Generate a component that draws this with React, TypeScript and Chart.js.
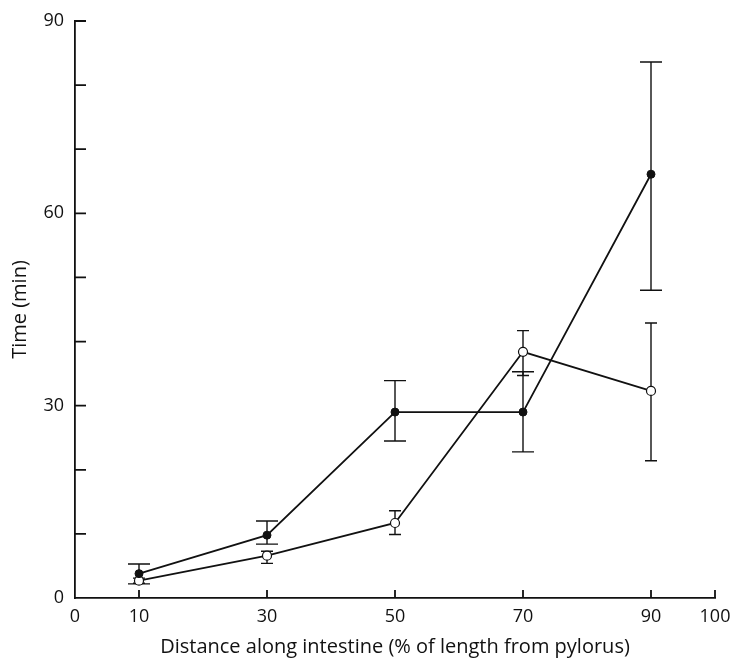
import React, { useEffect, useRef } from 'react';
import { Chart, registerables } from 'chart.js';

Chart.register(...registerables);

const distances = [10, 30, 50, 70, 90];
const filledTimes = [3.8, 9.8, 29.0, 29.0, 66.1];
const filledLow = [2.2, 8.4, 24.5, 22.8, 48.0];
const filledHigh = [5.3, 12.0, 33.9, 35.3, 83.6];
const openTimes = [2.7, 6.6, 11.7, 38.4, 32.3];
const openLow = [2.3, 5.4, 9.9, 34.7, 21.4];
const openHigh = [3.1, 7.3, 13.6, 41.7, 42.9];

const xTickValues = [0, 10, 30, 50, 70, 90, 100];
const xTickMarks = [10, 30, 50, 70, 90, 100];
const yTickValues = [0, 10, 20, 30, 40, 50, 60, 70, 80, 90];
const yLabelledTicks = [0, 30, 60, 90];

const xTitle = 'Distance along intestine (% of length from pylorus)';
const yTitle = 'Time (min)';

const INK = '#111';
const FONT = 'Open Sans';

export default function App() {
  const ref = useRef<HTMLCanvasElement>(null);

  useEffect(() => {
    if (!ref.current) return;

    const errorBars = {
      id: 'errorBars',
      beforeDatasetsDraw(chart: any) {
        const ctx = chart.ctx;
        const xs = chart.scales.x;
        const ys = chart.scales.y;
        const sets = [
          { low: filledLow, high: filledHigh, cap: 11 },
          { low: openLow, high: openHigh, cap: 6 },
        ];
        ctx.save();
        ctx.strokeStyle = INK;
        ctx.lineWidth = 1.4;
        sets.forEach((s) => {
          distances.forEach((d, i) => {
            const px = xs.getPixelForValue(d);
            const pl = ys.getPixelForValue(s.low[i]);
            const ph = ys.getPixelForValue(s.high[i]);
            ctx.beginPath();
            ctx.moveTo(px, pl);
            ctx.lineTo(px, ph);
            ctx.moveTo(px - s.cap, pl);
            ctx.lineTo(px + s.cap, pl);
            ctx.moveTo(px - s.cap, ph);
            ctx.lineTo(px + s.cap, ph);
            ctx.stroke();
          });
        });
        ctx.restore();
      },
    };

    const innerTicks = {
      id: 'innerTicks',
      afterDraw(chart: any) {
        const ctx = chart.ctx;
        const xs = chart.scales.x;
        const ys = chart.scales.y;
        const area = chart.chartArea;
        ctx.save();
        ctx.strokeStyle = INK;
        ctx.lineWidth = 1.8;
        ctx.beginPath();
        xTickMarks.forEach((v) => {
          const px = xs.getPixelForValue(v);
          ctx.moveTo(px, area.bottom);
          ctx.lineTo(px, area.bottom - 8);
        });
        yTickValues.forEach((v) => {
          if (v === 0) return;
          const py = ys.getPixelForValue(v);
          ctx.moveTo(area.left, py);
          ctx.lineTo(area.left + 11, py);
        });
        ctx.stroke();
        ctx.restore();
      },
    };

    const chart = new Chart(ref.current, {
      type: 'line',
      data: {
        datasets: [
          {
            label: 'filled',
            data: distances.map((x, i) => ({ x, y: filledTimes[i] })),
            borderColor: INK,
            borderWidth: 1.8,
            backgroundColor: INK,
            pointBackgroundColor: INK,
            pointBorderColor: INK,
            pointRadius: 4,
            pointBorderWidth: 1,
            tension: 0,
          },
          {
            label: 'open',
            data: distances.map((x, i) => ({ x, y: openTimes[i] })),
            borderColor: INK,
            borderWidth: 1.8,
            backgroundColor: '#fff',
            pointBackgroundColor: '#fff',
            pointBorderColor: INK,
            pointRadius: 4.5,
            pointBorderWidth: 1.2,
            tension: 0,
          },
        ],
      },
      options: {
        responsive: false,
        animation: false,
        layout: { padding: { top: 21, right: 15, left: 0, bottom: 0 } },
        plugins: {
          legend: { display: false },
          tooltip: { enabled: false },
        },
        scales: {
          x: {
            type: 'linear',
            min: 0,
            max: 100,
            afterBuildTicks: (s: any) => {
              s.ticks = xTickValues.map((v) => ({ value: v }));
            },
            afterFit: (s: any) => {
              s.height = 62;
              s.paddingLeft = 0;
              s.paddingRight = 0;
            },
            ticks: {
              autoSkip: false,
              maxRotation: 0,
              color: INK,
              padding: 8,
              font: { family: FONT, size: 18 },
            },
            grid: { display: false, drawTicks: false },
            border: { display: true, color: INK, width: 1.8 },
            title: {
              display: true,
              text: xTitle,
              color: INK,
              font: { family: FONT, size: 20 },
              padding: { top: 0, bottom: 1 },
            },
          },
          y: {
            type: 'linear',
            min: 0,
            max: 90,
            afterBuildTicks: (s: any) => {
              s.ticks = yTickValues.map((v) => ({ value: v }));
            },
            afterFit: (s: any) => {
              s.width = 75;
              s.paddingTop = 0;
              s.paddingBottom = 0;
            },
            ticks: {
              autoSkip: false,
              color: INK,
              padding: 11,
              font: { family: FONT, size: 18 },
              callback: (v: any) => (yLabelledTicks.includes(Number(v)) ? String(v) : ''),
            },
            grid: { display: false, drawTicks: false },
            border: { display: true, color: INK, width: 1.8 },
            title: {
              display: true,
              text: yTitle,
              color: INK,
              font: { family: FONT, size: 20 },
              padding: { top: 8, bottom: 0 },
            },
          },
        },
      },
      plugins: [errorBars, innerTicks],
    });

    return () => chart.destroy();
  }, []);

  return (
    <div style={{ position: 'fixed', left: 0, top: 0, width: 730, height: 660, background: '#fff' }}>
      <canvas ref={ref} width={730} height={660} style={{ width: 730, height: 660 }} />
    </div>
  );
}
